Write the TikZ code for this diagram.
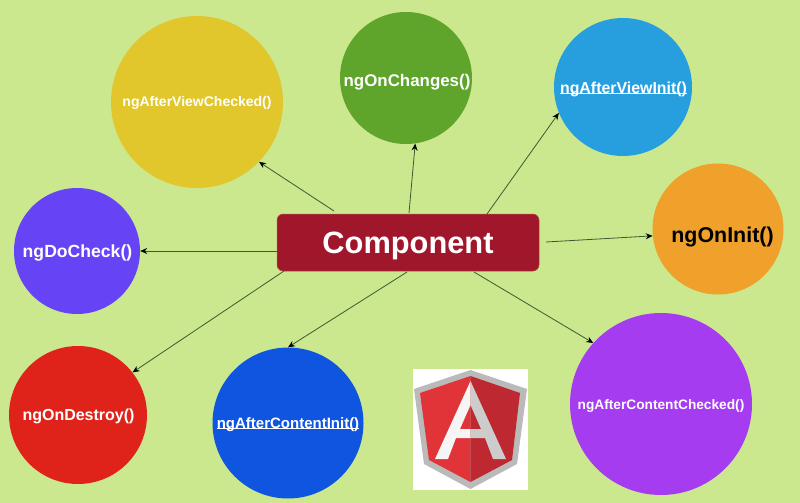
\documentclass[tikz,border=0pt]{standalone}
\usepackage{fontspec}
\setmainfont{Liberation Sans}
\usetikzlibrary{arrows.meta}
\definecolor{bg}{HTML}{CBE88F}
\definecolor{c1}{HTML}{E2C72C}
\definecolor{c2}{HTML}{5FA42B}
\definecolor{c3}{HTML}{279FDF}
\definecolor{c4}{HTML}{EFA12B}
\definecolor{c5}{HTML}{6644F5}
\definecolor{c6}{HTML}{E0231A}
\definecolor{c7}{HTML}{0F55E0}
\definecolor{c8}{HTML}{A53CF0}
\definecolor{boxc}{HTML}{A0162B}
\definecolor{linec}{HTML}{3C5A30}
\newcommand\tx[3]{\raisebox{#2}[0pt][0pt]{\makebox[0pt][c]{\kern#1\kern#1 #3}}}
\newcommand\ulin[1]{\setbox0\hbox{#1}\rlap{\rule[-1.3pt]{\wd0}{0.9pt}}\box0 }
\newcommand\fs[1]{\fontsize{#1}{#1}\selectfont}
\tikzset{
 x=1pt,y=-1pt,
 lifecycle/.style={circle,inner sep=0pt,text=white,font=\bfseries},
 arr/.style={-{Stealth[length=7pt,width=6pt,color=black]},draw=linec,line width=0.8pt},
}
\begin{document}
\begin{tikzpicture}
\useasboundingbox (0,0) rectangle (800,503);
\fill[bg] (0,0) rectangle (800,503);
\node[lifecycle,fill=c1,minimum size=172pt] (avc) at (197,102) {\fs{14}\tx{0pt}{-4pt}{ngAfterViewChecked()}};
\node[lifecycle,fill=c2,minimum size=132pt] (och) at (406,78) {\fs{16.9}\tx{1pt}{-8pt}{ngOnChanges()}};
\node[lifecycle,fill=c3,minimum size=138pt] (avi) at (623,87) {\fs{15.9}\tx{0.5pt}{-6pt}{\ulin{ngAfterViewInit()}}};
\node[lifecycle,fill=c4,minimum size=131pt,text=black] (oni) at (718,229) {\fs{21.4}\tx{4.5pt}{-13pt}{ngOnInit()}};
\node[lifecycle,fill=c5,minimum size=126pt] (dck) at (77,251) {\fs{17.6}\tx{0.5pt}{-6pt}{ngDoCheck()}};
\node[lifecycle,fill=c6,minimum size=138pt] (ond) at (78,415) {\fs{16}\tx{0.5pt}{-5pt}{ngOnDestroy()}};
\node[lifecycle,fill=c7,minimum size=151pt] (aci) at (288,423) {\fs{15}\tx{0pt}{-5pt}{\ulin{ngAfterContentInit()}}};
\node[lifecycle,fill=c8,minimum size=182pt] (acc) at (661,404) {\fs{13.7}\tx{0pt}{-5pt}{ngAfterContentChecked()}};
\node[fill=boxc,draw=boxc!70!bg,line width=0.5pt,rounded corners=6pt,minimum width=262pt,minimum height=57pt,inner sep=0pt,text=white,font=\bfseries] (comp) at (408,242.5) {\fs{30.8}\tx{0pt}{-10.5pt}{Component}};
\coordinate (s1) at (334,211);
\coordinate (s2) at (409,213);
\coordinate (s3) at (487,214);
\coordinate (s4) at (546,242);
\coordinate (s5) at (277,251);
\coordinate (s6) at (284,271);
\coordinate (s7) at (407,272);
\coordinate (s8) at (474,272);
\draw[arr] (s1) -- (avc.-44);
\draw[arr] (s2) -- (och.-82);
\draw[arr] (s3) -- (avi.202);
\draw[arr] (s4) -- (oni.186);
\draw[arr] (s5) -- (dck.0);
\draw[arr] (s6) -- (ond.38);
\draw[arr] (s7) -- (aci.90);
\draw[arr] (s8) -- (acc.138);
% Angular logo
\fill[white] (413,369) rectangle (528,490);
\fill[black!27] (470.5,370) -- (527,389) -- (517,464) -- (470.5,489) -- (424,464) -- (414,389) -- cycle;
\fill[color={rgb,255:red,224;green,52;blue,56}] (470.5,376) -- (470.5,482) -- (429,460) -- (420,393) -- cycle;
\fill[color={rgb,255:red,190;green,40;blue,48}] (470.5,376) -- (520,393) -- (512,460) -- (470.5,482) -- cycle;
\fill[black!4,even odd rule] (470.5,381) -- (470.5,405) -- (460,429) -- (470.5,429) -- (470.5,438) -- (456,438) -- (448,459) -- (435,459) -- cycle;
\fill[black!20,even odd rule] (470.5,381) -- (506,459) -- (493,459) -- (485,438) -- (470.5,438) -- (470.5,429) -- (481,429) -- (470.5,405) -- cycle;
\end{tikzpicture}
\end{document}
